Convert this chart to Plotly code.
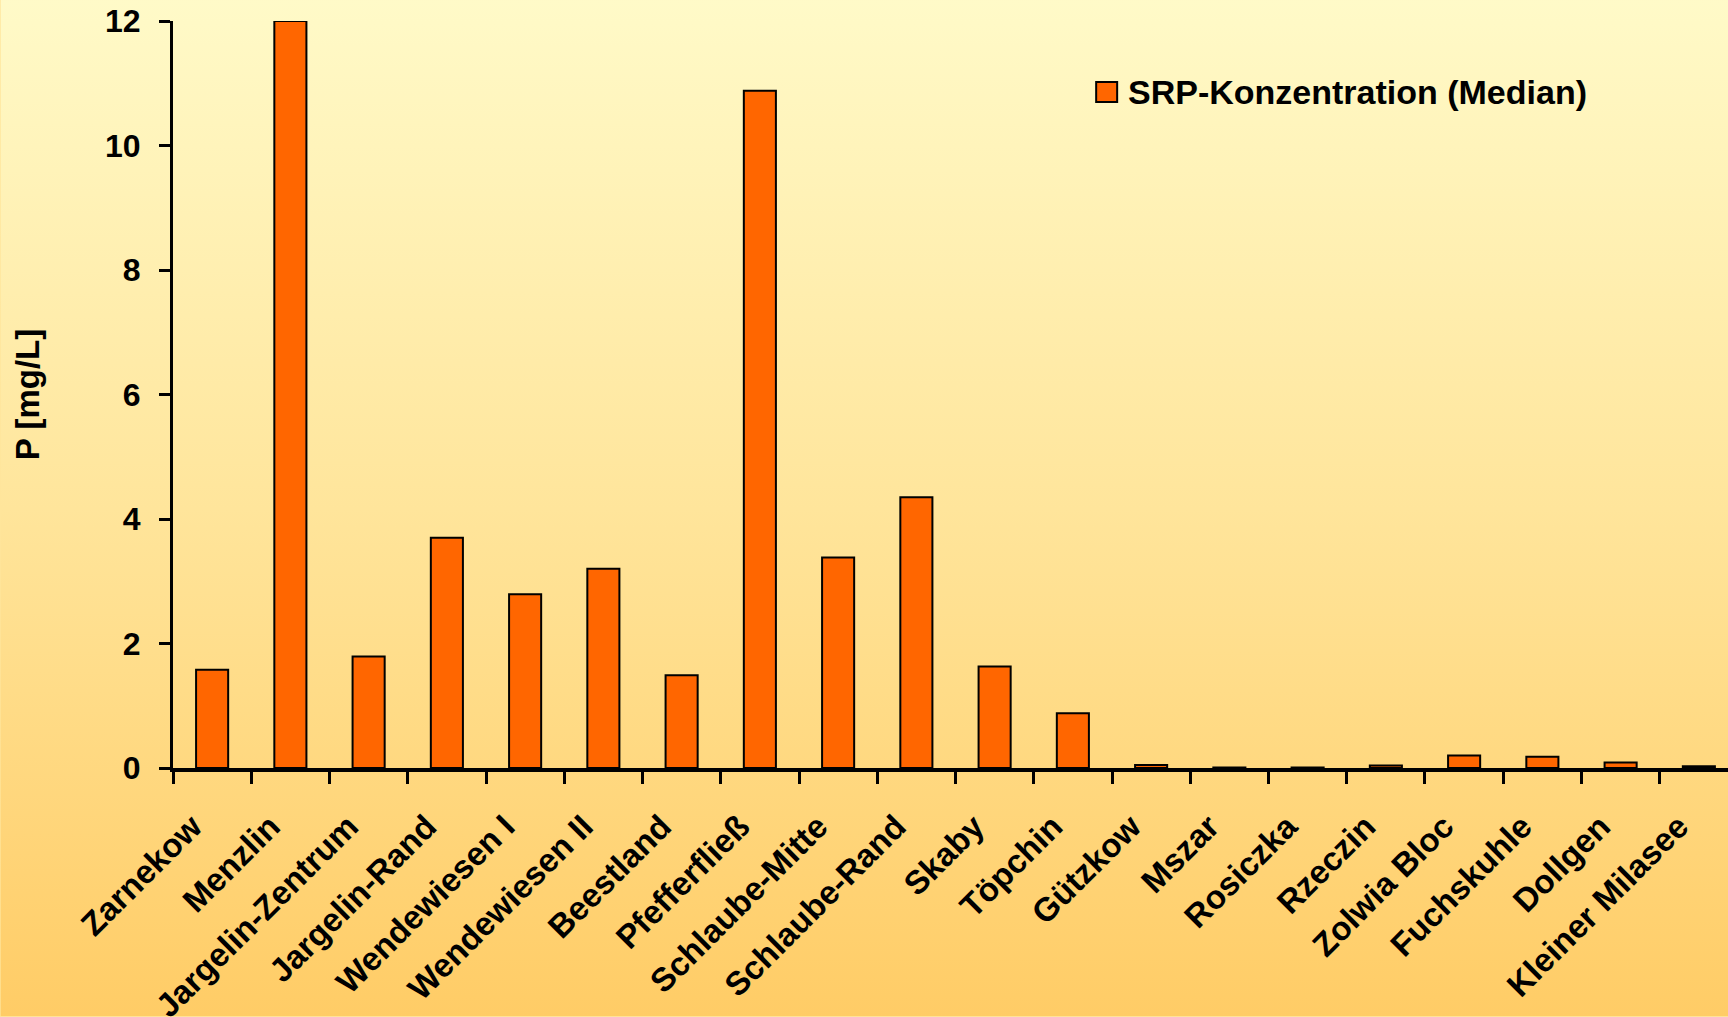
import base64
import plotly.graph_objects as go

# Sampling sites and median SRP concentrations (mg/L)
sites = [
    "Zarnekow", "Menzlin", "Jargelin-Zentrum", "Jargelin-Rand", "Wendewiesen I",
    "Wendewiesen II", "Beestland", "Pfefferfließ", "Schlaube-Mitte", "Schlaube-Rand",
    "Skaby", "Töpchin", "Gützkow", "Mszar", "Rosiczka",
    "Rzeczin", "Zolwia Bloc", "Fuchskuhle", "Dollgen", "Kleiner Milasee",
]
srp_median = [
    1.58, 12.0, 1.79, 3.7, 2.79,
    3.2, 1.49, 10.88, 3.38, 4.35,
    1.63, 0.88, 0.05, 0.01, 0.01,
    0.04, 0.2, 0.18, 0.09, 0.03,
]
y_ticks = [0, 2, 4, 6, 8, 10, 12]
series_name = "SRP-Konzentration (Median)"
y_title = "P [mg/L]"

W, H = 1728, 1017
L, T = 172.6, 21.0
B = H - 768.5
PW, PH = W - L, H - T - B

FONT = "Liberation Sans, Arial, sans-serif"
BAR_COLOR = "#FF6600"

# vertical pale-yellow to orange page gradient as an SVG
svg = (
    f'<svg xmlns="http://www.w3.org/2000/svg" width="{W}" height="{H}" '
    f'preserveAspectRatio="none" viewBox="0 0 {W} {H}">'
    '<defs><linearGradient id="g" x1="0" y1="0" x2="0" y2="1">'
    '<stop offset="0" stop-color="#FFFAC8"/>'
    '<stop offset="0.5" stop-color="#FFE59B"/>'
    '<stop offset="1" stop-color="#FFCC66"/>'
    '</linearGradient></defs>'
    f'<rect width="{W}" height="{H}" fill="url(#g)"/></svg>'
)
bg_src = "data:image/svg+xml;base64," + base64.b64encode(svg.encode()).decode()


def px_x(px):
    return (px - L) / PW


def px_y(py):
    return (H - B - py) / PH


fig = go.Figure()
fig.add_trace(go.Bar(
    x=sites,
    y=srp_median,
    name=series_name,
    width=0.41,
    marker=dict(color=BAR_COLOR, line=dict(color="black", width=2)),
    showlegend=False,
))

fig.update_layout(
    width=W,
    height=H,
    margin=dict(l=L, r=0, t=T, b=B, autoexpand=False),
    paper_bgcolor="#FFE59B",
    plot_bgcolor="rgba(0,0,0,0)",
    font=dict(family=FONT, color="black", size=32, weight="bold"),
    bargap=0.59,
    images=[dict(
        source=bg_src, xref="paper", yref="paper",
        x=px_x(0), y=px_y(0), sizex=W / PW, sizey=H / PH,
        xanchor="left", yanchor="top", sizing="stretch", layer="below",
    )],
    xaxis=dict(
        type="category",
        range=[-0.5, 19.5 - 10 / 78.3],
        showline=True, linecolor="black", linewidth=4,
        ticks="outside", tickson="boundaries", ticklen=12, tickwidth=3,
        tickcolor="black", tickangle=-45, showgrid=False, zeroline=False,
        ticklabelstandoff=22, ticklabelshift=-20,
        tickfont=dict(family=FONT, size=33, weight="bold"),
    ),
    yaxis=dict(
        range=[0, 12], tickvals=y_ticks,
        showline=True, linecolor="black", linewidth=3,
        ticks="outside", ticklen=11, tickwidth=3, tickcolor="black",
        ticklabelstandoff=12, showgrid=False, zeroline=False,
        tickfont=dict(family=FONT, size=32, weight="bold"),
        title=dict(text=y_title, standoff=56,
                   font=dict(family=FONT, size=33, weight="bold")),
    ),
    shapes=[dict(
        type="rect", xref="paper", yref="paper",
        x0=px_x(1096), x1=px_x(1117), y0=px_y(102), y1=px_y(82),
        fillcolor=BAR_COLOR, line=dict(color="black", width=2),
    )],
    annotations=[dict(
        text=series_name, xref="paper", yref="paper",
        x=px_x(1126), y=px_y(92), xanchor="left", yanchor="middle",
        showarrow=False, font=dict(family=FONT, size=34, weight="bold"),
    )],
)

fig.write_html("out.html")
